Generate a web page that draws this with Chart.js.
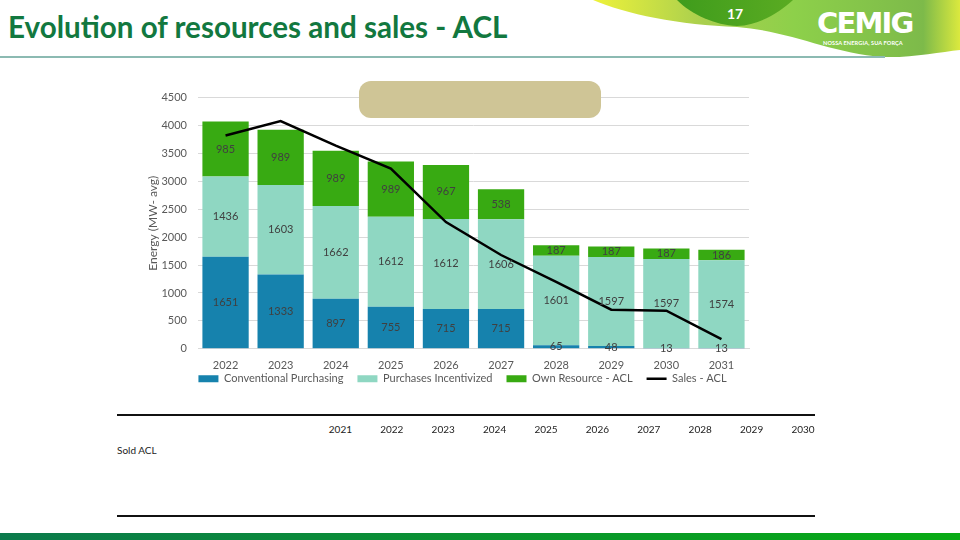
<!DOCTYPE html>
<html>
<head>
<meta charset="utf-8">
<script src="https://cdn.jsdelivr.net/npm/chart.js@4.4.1/dist/chart.umd.min.js"></script>
<style>
  body { margin: 0; width: 960px; height: 540px; position: relative; overflow: hidden; background: #fff; font-family: Lato, "Noto Sans", sans-serif; }
  #swoosh { position: absolute; left: 0; top: 0; }
  .title { position: absolute; left: 8px; top: 9px; font-size: 29.6px; font-weight: bold; color: #12783f; white-space: nowrap; }
  .rule { position: absolute; left: 0; top: 56px; width: 885px; height: 2px; background: #8cbab2; }
  .page { position: absolute; left: 727px; top: 5px; color: #fff; font-weight: bold; font-size: 14px; }
  .logo { position: absolute; left: 817px; top: 6px; color: #fff; font-family: "DejaVu Sans", sans-serif; font-weight: bold; font-size: 29px; letter-spacing: -1.8px; }
  .slogan { position: absolute; left: 823px; top: 39px; color: #fff; font-weight: bold; font-size: 5.6px; letter-spacing: 0.1px; white-space: nowrap; }
  #chartBox { position: absolute; left: 140px; top: 80px; }
  .note { position: absolute; left: 359px; top: 81px; width: 242px; height: 37px; border-radius: 12px; background: #cfc596; }
  .hline { position: absolute; left: 117px; width: 698px; height: 2px; background: #111; }
  .cell { position: absolute; top: 423px; width: 51px; text-align: right; font-size: 10px; color: #222; }
  .rowname { position: absolute; left: 117px; top: 444px; font-size: 10px; color: #222; }
  .footer { position: absolute; left: 0; top: 533px; width: 960px; height: 7px; background: linear-gradient(90deg, #0b7a4c, #08ab14); }
</style>
</head>
<body>
<svg id="swoosh" width="960" height="70">
  <defs>
    <linearGradient id="band" x1="593" y1="0" x2="960" y2="0" gradientUnits="userSpaceOnUse">
      <stop offset="0" stop-color="#eef23a"/>
      <stop offset="0.3" stop-color="#a9cf4e"/>
      <stop offset="0.55" stop-color="#8dd04a"/>
      <stop offset="0.9" stop-color="#7dba4a"/>
      <stop offset="1" stop-color="#dbe93e"/>
    </linearGradient>
    <linearGradient id="lobe" x1="677" y1="0" x2="793" y2="0" gradientUnits="userSpaceOnUse">
      <stop offset="0" stop-color="#3f9c1c"/>
      <stop offset="1" stop-color="#5aab22"/>
    </linearGradient>
  </defs>
  <path d="M593,0 C625,14 680,25 737,27 C790,31 830,53 883,57 C912,58 940,52 960,50 L960,0 Z" fill="url(#band)"/>
  <path d="M677,0 C692,15 715,25 737,26 C760,25 780,12 793,0 Z" fill="url(#lobe)"/>
</svg>
<div class="title">Evolution of resources and sales - ACL</div>
<div class="rule"></div>
<div class="page">17</div>
<div class="logo">CEMIG</div>
<div class="slogan">NOSSA ENERGIA, SUA FORÇA</div>

<div id="chartBox"><canvas id="chart" width="620" height="337"></canvas></div>
<div class="note"></div>

<div class="hline" style="top:414px"></div>
<div id="tableHead"></div>
<div class="rowname">Sold ACL</div>
<div class="hline" style="top:515px"></div>
<div class="footer"></div>

<script>
const years = ['2022', '2023', '2024', '2025', '2026', '2027', '2028', '2029', '2030', '2031'];
const conventional = [1651, 1333, 897, 755, 715, 715, 65, 48, 13, 13];
const incentivized = [1436, 1603, 1662, 1612, 1612, 1606, 1601, 1597, 1597, 1574];
const ownResource = [985, 989, 989, 989, 967, 538, 187, 187, 187, 186];
const salesACL = [3820, 4080, 3640, 3230, 2270, 1680, 1200, 700, 682, 172];
const tableYears = ['2021', '2022', '2023', '2024', '2025', '2026', '2027', '2028', '2029', '2030'];

// table header years
const head = document.getElementById('tableHead');
tableYears.forEach((y, i) => {
    const d = document.createElement('div');
    d.className = 'cell';
    d.style.left = (301 + i * 51.4) + 'px';
    d.textContent = y;
    head.appendChild(d);
});

// values written in the middle of each bar segment
const segmentLabels = {
    id: 'segmentLabels',
    afterDatasetsDraw(chart) {
        const ctx = chart.ctx;
        ctx.save();
        ctx.font = '11px Lato';
        ctx.fillStyle = '#404040';
        ctx.textAlign = 'center';
        ctx.textBaseline = 'middle';
        chart.data.datasets.forEach((ds, i) => {
            if (ds.type === 'line') return;
            chart.getDatasetMeta(i).data.forEach((bar, j) => {
                ctx.fillText(ds.data[j], bar.x, (bar.y + bar.base) / 2);
            });
        });
        ctx.restore();
    }
};

// pull the legend up closer to the axis labels, and a bit to the right
const legendNudge = {
    id: 'legendNudge',
    afterLayout(chart) {
        const lg = chart.legend;
        const shift = lg.top - (chart.chartArea.bottom + 10.5);
        lg.top -= shift;
        lg.bottom -= shift;
        lg.left += 18;
        lg.right += 18;
    }
};

const font = { family: 'Lato', size: 11 };

const ctx = document.getElementById('chart').getContext('2d');
new Chart(ctx, {
    data: {
        labels: years,
        datasets: [
            { type: 'bar', label: 'Conventional Purchasing', data: conventional, backgroundColor: '#1682ad' },
            { type: 'bar', label: 'Purchases Incentivized', data: incentivized, backgroundColor: '#8fd7c2' },
            { type: 'bar', label: 'Own Resource - ACL', data: ownResource, backgroundColor: '#38aa12' },
            { type: 'line', label: 'Sales - ACL', data: salesACL, borderColor: '#000', backgroundColor: '#000',
              borderWidth: 2.5, pointRadius: 0, tension: 0, order: -1 }
        ]
    },
    options: {
        responsive: false,
        animation: false,
        layout: { padding: { top: 13, right: 11 } },
        datasets: { bar: { categoryPercentage: 1, barPercentage: 0.84 } },
        plugins: {
            tooltip: { enabled: false },
            legend: {
                position: 'bottom',
                labels: {
                    usePointStyle: true,
                    pointStyleWidth: 20,
                    boxHeight: 7,
                    padding: 14,
                    color: '#595959',
                    font: font,
                    sort: (a, b) => a.datasetIndex - b.datasetIndex,
                    generateLabels(chart) {
                        return chart.data.datasets.map((ds, i) => ({
                            text: ds.label,
                            datasetIndex: i,
                            fillStyle: ds.backgroundColor,
                            strokeStyle: ds.type === 'line' ? '#000' : ds.backgroundColor,
                            lineWidth: ds.type === 'line' ? 2.5 : 0,
                            pointStyle: ds.type === 'line' ? 'line' : 'rect',
                            fontColor: '#595959'
                        }));
                    }
                }
            }
        },
        scales: {
            x: {
                stacked: true,
                grid: { display: false, drawTicks: false },
                border: { color: '#d9d9d9' },
                ticks: { color: '#595959', padding: 10, font: font }
            },
            y: {
                stacked: true,
                min: 0,
                max: 4500,
                ticks: { stepSize: 500, color: '#595959', padding: 11, font: font, callback: v => String(v) },
                grid: { color: '#d9d9d9', drawTicks: false },
                border: { display: false },
                title: { display: true, text: 'Energy (MW- avg)', color: '#595959', font: { family: 'Lato', size: 12 }, padding: { top: 6, bottom: 0 } },
                afterFit(scale) { scale.width = 58; }
            }
        }
    },
    plugins: [segmentLabels, legendNudge]
});
</script>
</body>
</html>
